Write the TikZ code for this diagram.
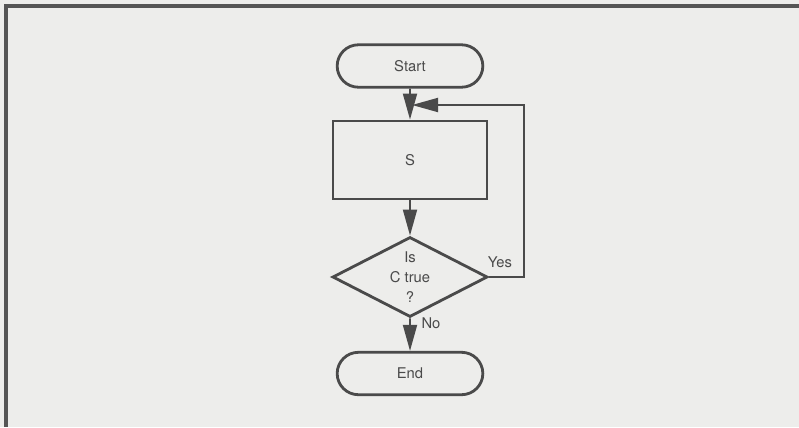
\documentclass[tikz,border=0pt]{standalone}
\usepackage{fontspec}
\setmainfont{TeX Gyre Heros}
\usetikzlibrary{arrows.meta,positioning,shapes.geometric,shapes.misc}
\definecolor{paper}{HTML}{EDEDEB}
\definecolor{ink}{HTML}{4A4A4A}
\definecolor{frame}{HTML}{555555}
\tikzset{
  termbox/.style={rounded rectangle,draw=ink,line width=2pt,
                  minimum width=3.875cm,minimum height=1.06cm,
                  font=\fontsize{10.5}{13}\selectfont,text=ink},
  procbox/.style={draw=ink,line width=2pt,
                  minimum width=3.85cm,minimum height=1.95cm,
                  font=\fontsize{10.5}{13}\selectfont,text=ink},
  testbox/.style={diamond,draw=ink,line width=2pt,aspect=1.94,inner sep=0pt,
                  minimum width=3.875cm,minimum height=2.0cm,align=center,
                  font=\fontsize{10.5}{14}\selectfont,text=ink},
  flowarr/.style={-{Triangle[length=6.5mm,width=3.5mm]},line width=1.3pt,draw=ink},
  flowlbl/.style={font=\fontsize{10.5}{13}\selectfont,text=ink}
}
\begin{document}
\begin{tikzpicture}[x=0.025cm,y=-0.025cm]
  \fill[paper] (0,0) rectangle (799,427);
  \useasboundingbox (0,0) rectangle (799,427);
  \draw[frame,line width=2.2pt] (799,6) -- (6,6) -- (6,427);

  \node[termbox] (start) at (410,66) {Start};
  \node[procbox] (body) at (410,160) {S};
  \node[testbox] (cond) at (410,277) {Is\\C true\\?};
  \node[termbox] (stop) at (410,373.5) {End};
  \coordinate (merge) at (412,105);

  \draw[flowarr] (start) -- (body);
  \draw[flowarr] (body) -- (cond);
  \draw[flowarr] (cond) -- (stop);
  \draw[flowarr] (cond.east) -- ++(35,0) |- (merge);

  \node[flowlbl] (yes) at (500,262) {Yes};
  \node[flowlbl] (no) at (431,323) {No};
\end{tikzpicture}
\end{document}
